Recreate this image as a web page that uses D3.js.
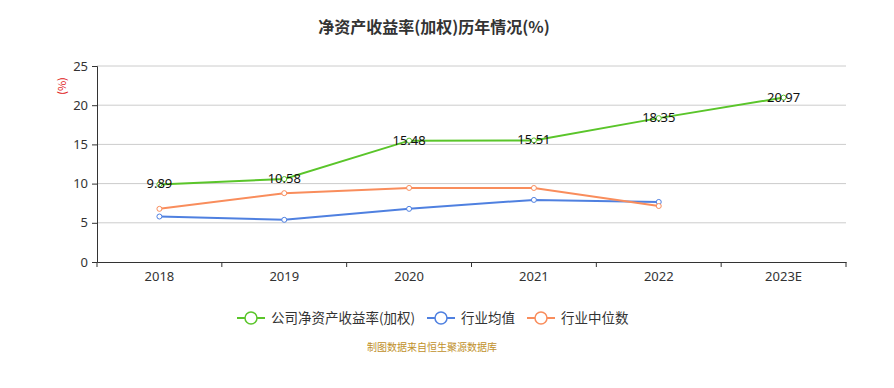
<!DOCTYPE html>
<html><head><meta charset="utf-8">
<script src="https://cdn.jsdelivr.net/npm/d3@7/dist/d3.min.js"></script>
<style>body{margin:0;background:#fff;}svg{display:block;font-family:"Noto Sans CJK SC","Noto Sans",sans-serif;}</style>
</head><body>
<svg id="c" width="894" height="388"></svg>
<script>
const categories = ["2018","2019","2020","2021","2022","2023E"];
const companyROE = [9.89,10.58,15.48,15.51,18.35,20.97];
const industryAvg = [5.8,5.38,6.78,7.92,7.66,null];
const industryMedian = [6.78,8.78,9.45,9.44,7.14,null];
const yTicks = [0,5,10,15,20,25];
const seriesNames = ["公司净资产收益率(加权)","行业均值","行业中位数"];
const colors = ["#5ac52a","#4f80e0","#f98d5c"];

const svg = d3.select("#c");
const m = {l:97, r:846, t:66, b:262};
const x = d3.scaleBand().domain(categories).range([m.l, m.r]);
const y = d3.scaleLinear().domain([0,25]).range([m.b, m.t]);

svg.append("text").attr("x",434).attr("y",33).attr("text-anchor","middle")
  .attr("font-size",16).attr("font-weight","bold").attr("fill","#333").text("净资产收益率(加权)历年情况(%)");

// grid
svg.append("g").selectAll("line").data(yTicks.filter(d=>d>0)).join("line")
  .attr("x1",m.l).attr("x2",m.r).attr("y1",d=>y(d)).attr("y2",d=>y(d))
  .attr("stroke","#ccc").attr("stroke-width",1);

// y axis
const ya = svg.append("g").attr("transform",`translate(${m.l},0)`)
  .call(d3.axisLeft(y).tickValues(yTicks).tickSize(5).tickPadding(4));
ya.select(".domain").attr("stroke","#333");
ya.selectAll(".tick line").attr("stroke","#333");
ya.selectAll("text").attr("font-size",13).attr("fill","#333").attr("font-family","'Noto Sans','Noto Sans CJK SC',sans-serif");

// x axis
const xa = svg.append("g").attr("transform",`translate(0,${m.b})`)
  .call(d3.axisBottom(x).tickSize(0).tickPadding(10));
xa.select(".domain").attr("stroke","#333");
xa.selectAll("text").attr("font-size",13).attr("fill","#333").attr("font-family","'Noto Sans','Noto Sans CJK SC',sans-serif");
const bounds = categories.map(c=>x(c)).concat([m.r]);
xa.selectAll(".bt").data(bounds).join("line").attr("class","bt")
  .attr("x1",d=>d).attr("x2",d=>d).attr("y1",0).attr("y2",5).attr("stroke","#333");

svg.append("text").attr("transform","translate(66,86) rotate(-90)").attr("text-anchor","middle")
  .attr("font-size",11).attr("fill","#e02020").text("(%)");

const cx = c => x(c) + x.bandwidth()/2;
const allSeries = [companyROE, industryAvg, industryMedian];
allSeries.forEach((vals,i)=>{
  const pts = categories.map((c,j)=>({c, v: vals[j]})).filter(d=>d.v!=null);
  const line = d3.line().x(d=>cx(d.c)).y(d=>y(d.v));
  svg.append("path").datum(pts).attr("d",line).attr("fill","none")
    .attr("stroke",colors[i]).attr("stroke-width",2);
  svg.append("g").selectAll("circle").data(pts).join("circle")
    .attr("cx",d=>cx(d.c)).attr("cy",d=>y(d.v)).attr("r",2.5)
    .attr("fill","#fff").attr("stroke",colors[i]).attr("stroke-width",1);
});

// labels
svg.append("g").selectAll("text").data(categories.map((c,j)=>({c,v:companyROE[j]}))).join("text")
  .attr("x",d=>cx(d.c)).attr("y",d=>y(d.v)+4).attr("text-anchor","middle")
  .attr("font-size",13).attr("fill","#111").attr("font-family","'Noto Sans','Noto Sans CJK SC',sans-serif")
  .text(d=>d.v.toFixed(2));

// legend
const legX = [237, 427, 527];
seriesNames.forEach((n,i)=>{
  const g = svg.append("g").attr("transform",`translate(${legX[i]},318)`);
  g.append("line").attr("x1",0).attr("x2",28).attr("stroke",colors[i]).attr("stroke-width",2);
  g.append("circle").attr("cx",14).attr("cy",0).attr("r",6).attr("fill","#fff").attr("stroke",colors[i]).attr("stroke-width",1.5);
  g.append("text").attr("x",34).attr("y",5).attr("font-size",13.5).attr("fill","#333").text(n);
});

svg.append("text").attr("x",432).attr("y",351).attr("text-anchor","middle")
  .attr("font-size",10).attr("fill","#c0902a").text("制图数据来自恒生聚源数据库");
</script>
</body></html>
